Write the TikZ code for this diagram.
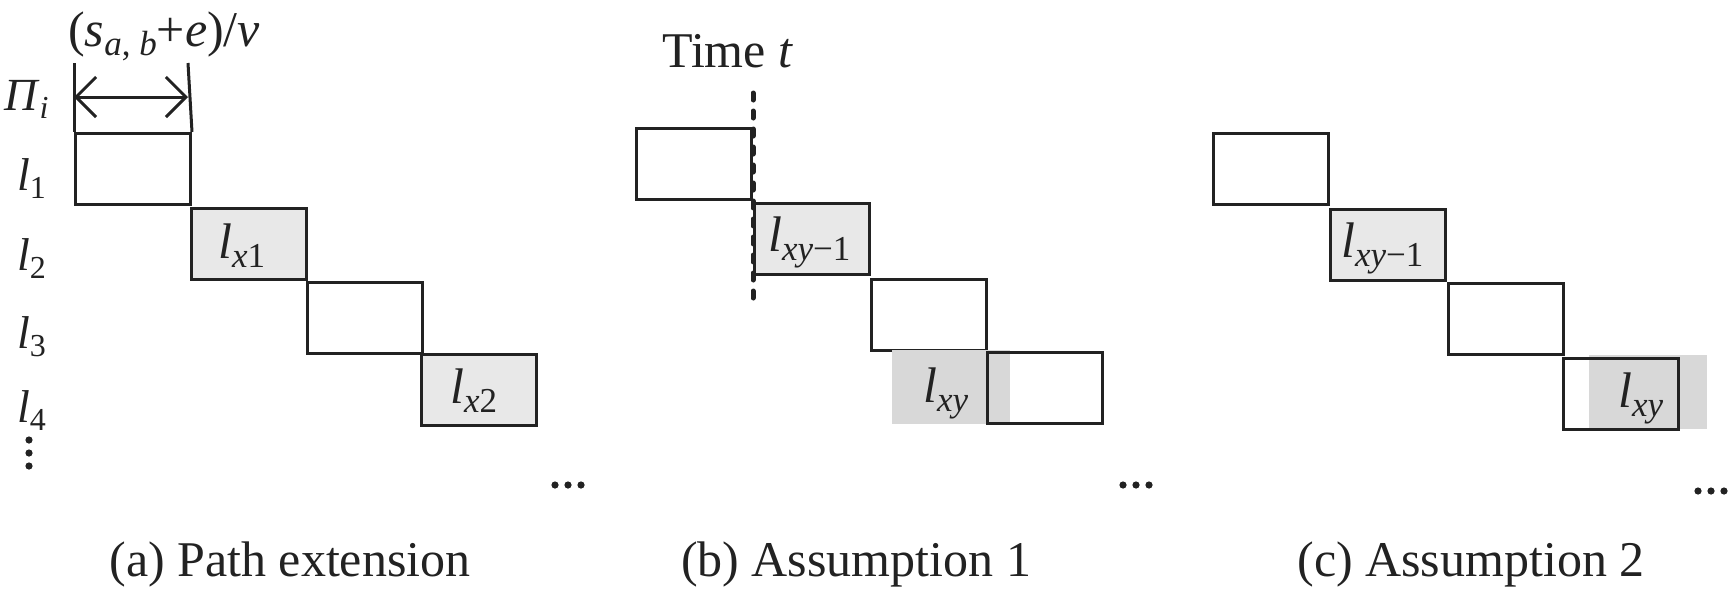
\documentclass[tikz,border=0pt]{standalone}
\usepackage{fontspec}
\setmainfont{Liberation Serif}
\usetikzlibrary{arrows.meta}
\definecolor{lgray}{HTML}{E8E8E8}
\definecolor{dgray}{HTML}{D8D8D8}
\definecolor{ink}{HTML}{222222}
\newcommand\lsub[1]{\raisebox{-8pt}{\fontsize{32}{36}\selectfont #1}}
\newcommand\bsub[1]{\raisebox{-9pt}{\fontsize{35}{38}\selectfont #1}}
\begin{document}
\begin{tikzpicture}[x=1pt,y=-1pt,
  cellbox/.style={draw=ink, line width=3pt, inner sep=0pt, anchor=north west, minimum width=115pt, minimum height=71pt},
  hcellbox/.style={cellbox, fill=lgray},
  graypad/.style={fill=dgray, inner sep=0pt, anchor=north west, minimum width=118pt, minimum height=74pt},
  lbl/.style={font=\fontsize{46}{50}\selectfont, inner sep=0pt, anchor=base west, text=ink},
  blbl/.style={font=\fontsize{50}{54}\selectfont, inner sep=0pt, anchor=base west, text=ink},
  captxt/.style={font=\fontsize{50}{56}\selectfont, inner sep=0pt, anchor=base, text=ink},
  dotfill/.style={fill=ink}
]
\fill[white] (0,0) rectangle (1732,600);

% ---------- panel (a)
\node[cellbox]  (a1) at (74,132) {};
\node[hcellbox] (a2) at (190,207) {};
\node[cellbox]  (a3) at (306,281) {};
\node[hcellbox] (a4) at (420,353) {};
\coordinate (tl) at (74,63);
\coordinate (tr) at (188,63);
\draw[ink, line width=3pt] (tl) -- (a1.north west);
\draw[ink, line width=3pt] (tr) -- (a1.north east);
\coordinate (al) at (74,97);
\coordinate (ar) at (188,97);
\draw[ink, line width=3pt, {Straight Barb[length=20pt,width=40pt]}-{Straight Barb[length=20pt,width=40pt]}] (al) -- (ar);
\node[blbl] (frm) at (68,46) {(\textit{s}\bsub{\textit{a}, \textit{b}}+\textit{e})/\textit{v}};
\node[lbl] (pi) at (4,110) {\textit{Π}\lsub{\textit{i}}};
\node[lbl] (r1) at (17,190) {\textit{l}\lsub{1}};
\node[lbl] (r2) at (17,270) {\textit{l}\lsub{2}};
\node[lbl] (r3) at (17,348) {\textit{l}\lsub{3}};
\node[lbl] (r4) at (17,422) {\textit{l}\lsub{4}};
\fill[dotfill] (29,440) circle (3.6pt) (29,453) circle (3.6pt) (29,466) circle (3.6pt);
\node[blbl] (ta2) at (218,258) {\textit{l}\bsub{\textit{x}1}};
\node[blbl] (ta4) at (450,403) {\textit{l}\bsub{\textit{x}2}};
\fill[dotfill] (555,485) circle (3.6pt) (568,485) circle (3.6pt) (581,485) circle (3.6pt);
\node[captxt] (capa) at (290,576) {(a) Path extension};

% ---------- panel (b)
\node[cellbox]  (b1) at (635,127) {};
\node[hcellbox] (b2) at (753,202) {};
\node[cellbox]  (b3) at (870,278) {};
\node[graypad]  (bg) at (892,350) {};
\node[cellbox]  (b4) at (986,351) {};
\coordinate (dt) at (753,93);
\coordinate (db) at (753,303);
\draw[ink, line width=5pt, line cap=round, dash pattern=on 7pt off 11pt] (dt) -- (db);
\node[lbl, font=\fontsize{50}{56}\selectfont] (time) at (662,67) {Time \textit{t}};
\node[blbl] (tb2) at (768,251) {\textit{l}\bsub{\textit{xy}−1}};
\node[blbl] (tbg) at (923,402) {\textit{l}\bsub{\textit{xy}}};
\fill[dotfill] (1123,485) circle (3.6pt) (1136,485) circle (3.6pt) (1149,485) circle (3.6pt);
\node[captxt] (capb) at (856,576) {(b) Assumption 1};

% ---------- panel (c)
\node[cellbox]  (c1) at (1212,132) {};
\node[hcellbox] (c2) at (1329,208) {};
\node[cellbox]  (c3) at (1447,282) {};
\node[graypad]  (cg) at (1589,355) {};
\node[cellbox]  (c4) at (1562,357) {};
\node[blbl] (tc2) at (1341,257) {\textit{l}\bsub{\textit{xy}−1}};
\node[blbl] (tcg) at (1618,407) {\textit{l}\bsub{\textit{xy}}};
\fill[dotfill] (1698,491) circle (3.6pt) (1711,491) circle (3.6pt) (1724,491) circle (3.6pt);
\node[captxt] (capc) at (1471,576) {(c) Assumption 2};
\end{tikzpicture}
\end{document}
